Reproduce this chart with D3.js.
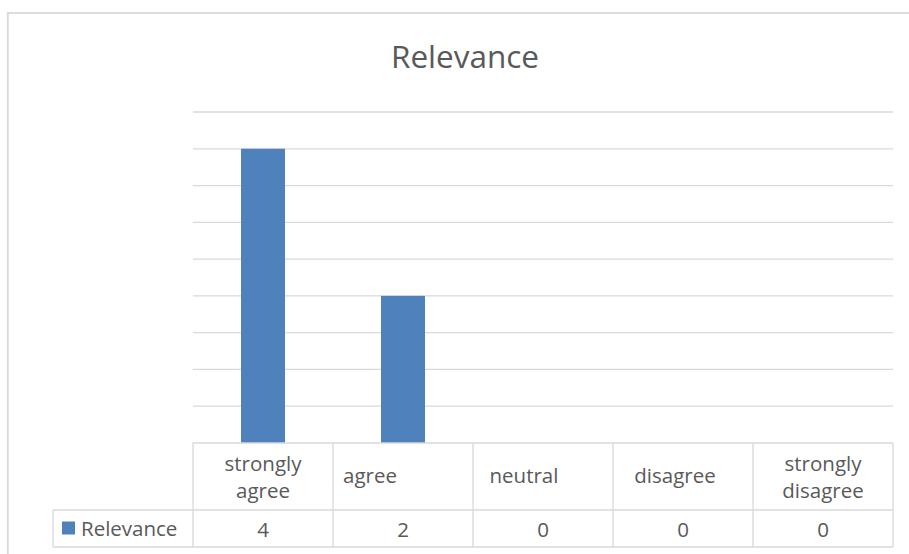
<!DOCTYPE html>
<html>
<head>
<meta charset="utf-8">
<script src="https://cdn.jsdelivr.net/npm/d3@7"></script>
<style>
  body { margin: 0; background: #fff; }
  svg { display: block; font-family: "Open Sans", sans-serif; }
</style>
</head>
<body>
<svg></svg>
<script>
// Chart data
const title = "Relevance";
const seriesName = "Relevance";
const categories = ["strongly agree", "agree", "neutral", "disagree", "strongly disagree"];
const values = [4, 2, 0, 0, 0];
const yMax = 4.5;

const W = 909, H = 554;
const TEXT = "#595959", GRID = "#d9d9d9", BAR = "#4f81bd";

const svg = d3.select("svg").attr("width", W).attr("height", H);

// chart border (runs off the right/bottom of the picture)
svg.append("rect")
    .attr("x", 7.8).attr("y", 13)
    .attr("width", 1000).attr("height", 600)
    .attr("fill", "none")
    .attr("stroke", GRID)
    .attr("stroke-width", 1.8);

// title
svg.append("text")
    .attr("x", 465).attr("y", 68)
    .attr("text-anchor", "middle")
    .attr("fill", TEXT)
    .style("font-size", "31.5px")
    .text(title);

// scales
let xScale = d3.scaleBand().domain(categories).range([193, 893]);
let yScale = d3.scaleLinear().domain([0, yMax]).range([443, 112]);

// gridlines
svg.append("g")
    .selectAll("line")
    .data(yScale.ticks(10).filter(d => d > 0))
    .enter().append("line")
    .attr("x1", 193).attr("x2", 893)
    .attr("y1", d => yScale(d)).attr("y2", d => yScale(d))
    .attr("stroke", GRID)
    .attr("stroke-width", 1.3);

// bars
const barW = 44;
svg.append("g")
    .selectAll("rect")
    .data(values)
    .enter().append("rect")
    .attr("x", (d, i) => xScale(categories[i]) + xScale.bandwidth() / 2 - barW / 2)
    .attr("y", d => yScale(d))
    .attr("width", barW)
    .attr("height", d => yScale(0) - yScale(d))
    .attr("fill", BAR);

// data table
const tTop = 443, tMid = 510, tBot = 547, legLeft = 53;
const table = svg.append("g")
    .attr("stroke", GRID)
    .attr("stroke-width", 1.3);

table.append("line").attr("x1", 193).attr("x2", 893).attr("y1", tTop).attr("y2", tTop);
table.append("line").attr("x1", legLeft).attr("x2", 893).attr("y1", tMid).attr("y2", tMid);
table.append("line").attr("x1", legLeft).attr("x2", 893).attr("y1", tBot).attr("y2", tBot);
table.append("line").attr("x1", legLeft).attr("x2", legLeft).attr("y1", tMid).attr("y2", tBot);

const edges = categories.map(c => xScale(c)).concat([xScale.range()[1]]);
table.selectAll("line.col")
    .data(edges)
    .enter().append("line")
    .attr("class", "col")
    .attr("x1", d => d).attr("x2", d => d)
    .attr("y1", tTop).attr("y2", tBot);

// category labels (Excel nudges single-line labels left)
const labelShift = [0, -33, -19, -8, 0];
const labels = svg.append("g")
    .attr("fill", TEXT)
    .style("font-size", "20.5px")
    .attr("text-anchor", "middle");

categories.forEach((c, i) => {
    const lines = c.split(" ");
    const cx = xScale(c) + xScale.bandwidth() / 2 + labelShift[i];
    const t = labels.append("text");
    lines.forEach((ln, j) => {
        t.append("tspan")
            .attr("x", cx)
            .attr("y", lines.length === 1 ? 483 : 471 + j * 27)
            .text(ln);
    });
});

// value row
svg.append("g")
    .selectAll("text")
    .data(values)
    .enter().append("text")
    .attr("x", (d, i) => xScale(categories[i]) + xScale.bandwidth() / 2)
    .attr("y", 536.5)
    .attr("text-anchor", "middle")
    .attr("fill", TEXT)
    .style("font-size", "20.5px")
    .text(d => d);

// legend key in the table
svg.append("rect")
    .attr("x", 62).attr("y", 521.5)
    .attr("width", 13).attr("height", 13)
    .attr("fill", BAR);
svg.append("text")
    .attr("x", 81).attr("y", 535.5)
    .attr("fill", TEXT)
    .style("font-size", "20.5px")
    .text(seriesName);
</script>
</body>
</html>
